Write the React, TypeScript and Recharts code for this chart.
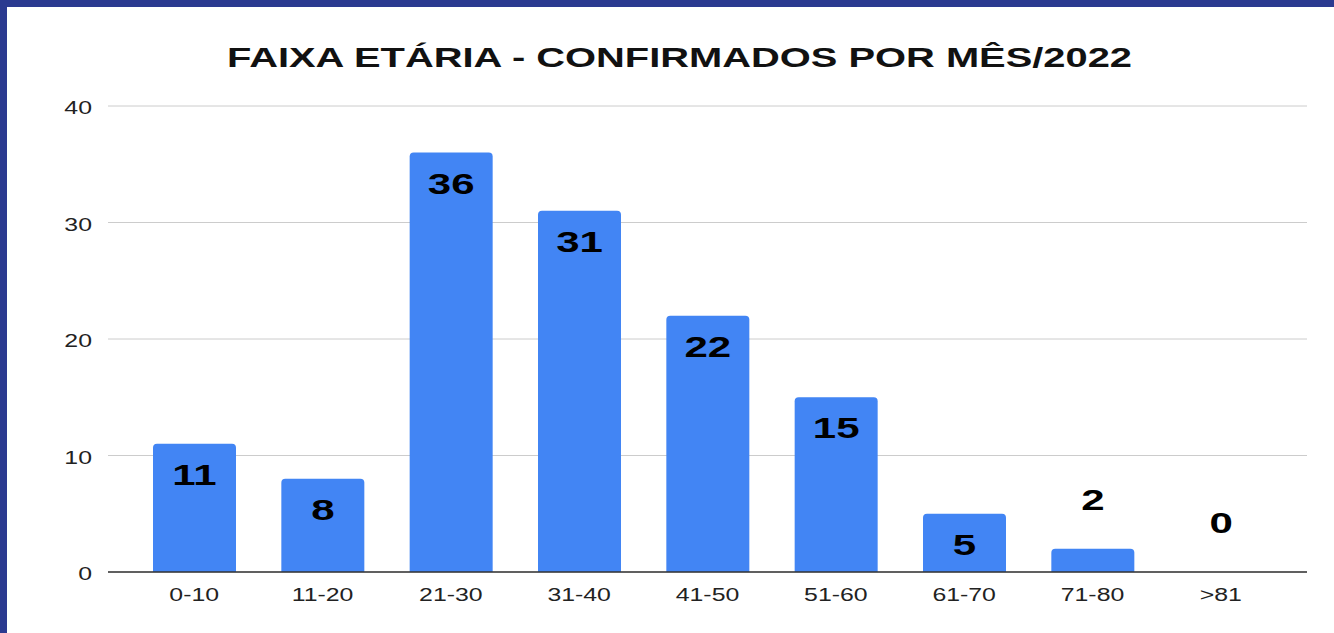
import React from "react";
import { BarChart, Bar, XAxis, YAxis, CartesianGrid, LabelList, Cell } from "recharts";

const categories = ["0-10", "11-20", "21-30", "31-40", "41-50", "51-60", "61-70", "71-80", ">81"];
const confirmados = [11, 8, 36, 31, 22, 15, 5, 2, 0];
const yTicks = [0, 10, 20, 30, 40];
const title = "FAIXA ETÁRIA - CONFIRMADOS POR MÊS/2022";

const data = categories.map((c, i) => ({ faixa: c, valor: confirmados[i] }));

const FONT = "'Liberation Sans', Arial, sans-serif";
const SX = 1.38;

const XTick = (props: any) => {
  const { x, y, payload } = props;
  return (
    <text
      transform={`translate(${x},${y + 21}) scale(${SX},1)`}
      textAnchor="middle"
      fontFamily={FONT}
      fontSize={18}
      fill="#222"
    >
      {payload.value}
    </text>
  );
};

const YTick = (props: any) => {
  const { x, y, payload } = props;
  return (
    <text
      transform={`translate(${x - 8},${y + 8}) scale(${SX},1)`}
      textAnchor="end"
      fontFamily={FONT}
      fontSize={18}
      fill="#222"
    >
      {payload.value}
    </text>
  );
};

const BarLabel = (props: any) => {
  const { x, y, width, height, value } = props;
  const cx = x + width / 2;
  const inside = height > 50;
  const top = value === 0 ? y + height : y;
  const by = inside ? top + 41 : top - 39;
  return (
    <text
      transform={`translate(${cx},${by}) scale(1.4,1)`}
      textAnchor="middle"
      fontFamily={FONT}
      fontWeight="bold"
      fontSize={30}
      fill="#000"
    >
      {value}
    </text>
  );
};

export default function App() {
  return (
    <div
      style={{
        position: "fixed",
        left: 0,
        top: 0,
        width: 1334,
        height: 633,
        background: "#fff",
        overflow: "hidden",
      }}
    >
      <div style={{ position: "absolute", left: 0, top: 0, width: 7, height: 633, background: "#2b3a90" }} />
      <div style={{ position: "absolute", left: 0, top: 0, width: 1334, height: 7, background: "#2b3a90" }} />
      <svg style={{ position: "absolute", left: 0, top: 0 }} width={1334} height={100}>
        <text
          x={679.5}
          y={67}
          textAnchor="middle"
          fontFamily={FONT}
          fontWeight="bold"
          fontSize={28}
          fill="#111"
          textLength={905}
          lengthAdjust="spacingAndGlyphs"
        >
          {title}
        </text>
      </svg>
      <div style={{ position: "absolute", left: 0, top: 0 }}>
        <BarChart
          width={1334}
          height={633}
          data={data}
          margin={{ top: 106, right: 27, bottom: 31, left: 0 }}
          barSize={83}
        >
          <CartesianGrid vertical={false} stroke="#cccccc" />
          <XAxis
            dataKey="faixa"
            height={30}
            padding={{ left: 22, right: 22 }}
            axisLine={{ stroke: "#333", strokeWidth: 1.5 }}
            tickLine={false}
            tick={<XTick />}
            interval={0}
          />
          <YAxis
            width={108}
            domain={[0, 40]}
            ticks={yTicks}
            axisLine={false}
            tickLine={false}
            tick={<YTick />}
          />
          <Bar dataKey="valor" fill="#4285f4" radius={[4, 4, 0, 0]} minPointSize={1} isAnimationActive={false}>
            {confirmados.map((v, i) => (
              <Cell key={i} fill={v === 0 ? "transparent" : "#4285f4"} />
            ))}
            <LabelList dataKey="valor" content={<BarLabel />} />
          </Bar>
        </BarChart>
      </div>
    </div>
  );
}
